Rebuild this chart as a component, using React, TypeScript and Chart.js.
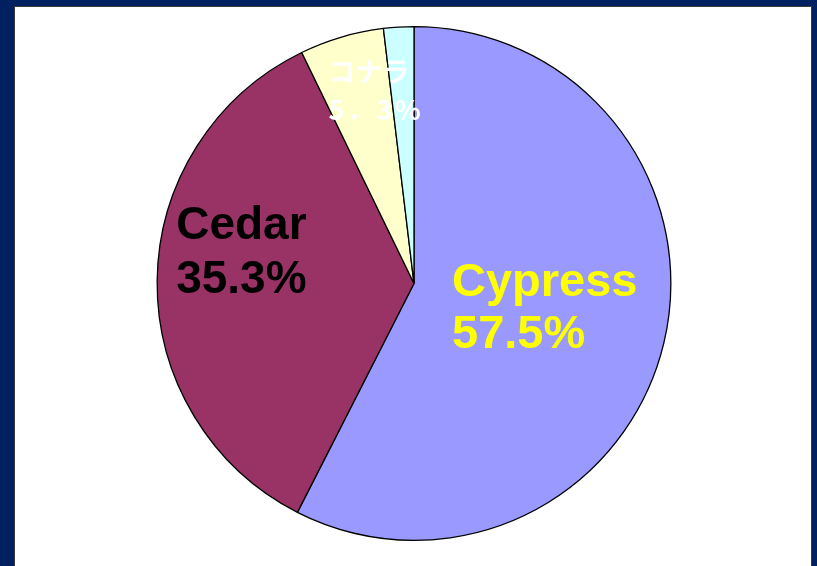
import React, { useEffect, useRef } from "react";
import { Chart, registerables } from "chart.js";

Chart.register(...registerables);

const categories = ["Cypress", "Cedar", "コナラ", "その他"];
const shares = [57.5, 35.3, 5.3, 1.9];
const labelLines = [["Cypress", "57.5%"], ["Cedar", "35.3%"], ["コナラ", "5．3%"], []];

const sliceColors = ["#9999FF", "#993366", "#FFFFCC", "#CCFFFF"];
// label placement relative to the pie centre, in units of the radius
const labelStyles = [
  { dx: 0.148, dy: 0.049, lineGap: 0.203, spacing: ["0px", "0px"], color: "#FFFF00", font: "bold 47px 'Liberation Sans', Arial, sans-serif" },
  { dx: -0.926, dy: -0.173, lineGap: 0.21, spacing: ["0px", "0px"], color: "#000000", font: "bold 46px 'Liberation Sans', Arial, sans-serif" },
  { dx: -0.333, dy: -0.786, lineGap: 0.148, spacing: ["0px", "2.5px"], color: "#FFFFFF", font: "bold 27px 'Noto Sans CJK JP', 'Liberation Sans', sans-serif" },
  { dx: 0, dy: 0, lineGap: 0, spacing: ["0px", "0px"], color: "#000000", font: "bold 12px sans-serif" },
];

const labelPlugin = {
  id: "sliceLabels",
  afterDatasetsDraw(chart: any) {
    const meta = chart.getDatasetMeta(0);
    const ctx = chart.ctx;
    ctx.save();
    ctx.textAlign = "left";
    ctx.textBaseline = "alphabetic";
    meta.data.forEach((arc: any, i: number) => {
      const lines = labelLines[i];
      if (!lines || !lines.length) return;
      const st = labelStyles[i];
      const r = arc.outerRadius;
      ctx.fillStyle = st.color;
      ctx.font = st.font;
      lines.forEach((t: string, j: number) => {
        (ctx as any).letterSpacing = st.spacing[j] || "0px";
        ctx.fillText(t, arc.x + st.dx * r, arc.y + (st.dy + j * st.lineGap) * r);
      });
    });
    ctx.restore();
  },
};

export default function App() {
  const ref = useRef<HTMLCanvasElement | null>(null);
  useEffect(() => {
    document.body.style.margin = "0";
    const chart = new Chart(ref.current as HTMLCanvasElement, {
      type: "pie",
      data: {
        labels: categories,
        datasets: [
          {
            data: shares,
            backgroundColor: sliceColors,
            borderColor: "#000000",
            borderWidth: 1.3,
          },
        ],
      },
      options: {
        animation: false,
        responsive: false,
        layout: { padding: { left: 11, right: 0, top: 26, bottom: 25 } },
        plugins: { legend: { display: false }, tooltip: { enabled: false } },
      },
      plugins: [labelPlugin],
    });
    return () => chart.destroy();
  }, []);
  return (
    <div style={{ position: "relative", width: 817, height: 566, background: "#00205F", overflow: "hidden" }}>
      <div
        style={{
          position: "absolute",
          left: 14,
          top: 6,
          width: 796,
          height: 600,
          background: "#FFFFFF",
          border: "1px solid #3a3a3a",
          boxSizing: "content-box",
        }}
      />
      <canvas ref={ref} width={817} height={566} style={{ position: "absolute", left: 0, top: 0 }} />
    </div>
  );
}
